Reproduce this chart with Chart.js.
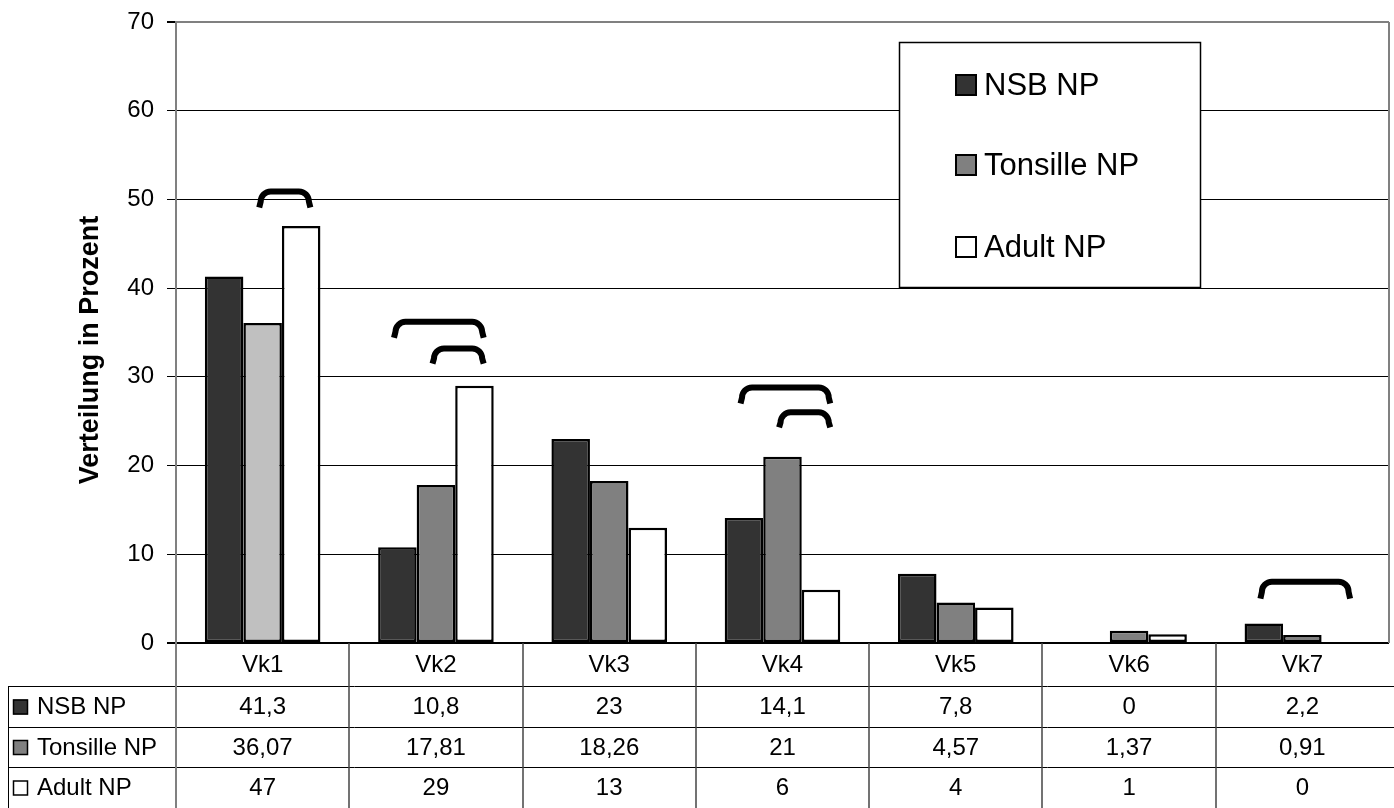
<!DOCTYPE html>
<html>
<head>
<meta charset="utf-8">
<script src="https://cdn.jsdelivr.net/npm/chart.js@4.4.0/dist/chart.umd.min.js"></script>
<style>
  html, body { margin: 0; padding: 0; background: #ffffff; }
  #wrap { width: 1394px; height: 808px; position: relative; }
</style>
</head>
<body>
<div id="wrap"><canvas id="chart"></canvas></div>
<script>
// Distribution of Vk families per group (percent)
const categories = ['Vk1', 'Vk2', 'Vk3', 'Vk4', 'Vk5', 'Vk6', 'Vk7'];
const seriesNames = ['NSB NP', 'Tonsille NP', 'Adult NP'];
const nsbNP      = [41.3, 10.8, 23, 14.1, 7.8, 0, 2.2];
const tonsilleNP = [36.07, 17.81, 18.26, 21, 4.57, 1.37, 0.91];
const adultNP    = [47, 29, 13, 6, 4, 1, 0];
const yTicks     = [0, 10, 20, 30, 40, 50, 60, 70];
const yTitle     = 'Verteilung in Prozent';

// Significance brackets: category, first and last series joined, level of the bar, level where the legs end
const bracketCategory = ['Vk1', 'Vk2', 'Vk2', 'Vk4', 'Vk4', 'Vk7'];
const bracketFrom     = [1, 0, 1, 0, 1, 0];
const bracketTo       = [2, 2, 2, 2, 2, 2];
const bracketTop      = [50.9, 36.2, 33.2, 28.8, 26.0, 6.9];
const bracketFoot     = [49.1, 34.4, 31.5, 27.0, 24.3, 5.0];

const seriesValues = [nsbNP, tonsilleNP, adultNP];
const seriesColors = ['#333333', '#808080', '#ffffff'];
const FONT = '"Liberation Sans", Arial, sans-serif';

const fmt = v => String(v).replace('.', ',');

const tonsilleFill = categories.map((c, i) => i === 0 ? '#c0c0c0' : seriesColors[1]);

const datasets = seriesNames.map((name, s) => ({
  label: name,
  data: seriesValues[s],
  backgroundColor: s === 1 ? tonsilleFill : seriesColors[s],
  borderColor: '#000000',
  borderWidth: 2.5,
  borderSkipped: false,
  categoryPercentage: 0.667,
  barPercentage: 1.0
}));

// Brackets above the bars
const bracketPlugin = {
  id: 'brackets',
  afterDatasetsDraw(chart) {
    const ctx = chart.ctx;
    const y = chart.scales.y;
    ctx.save();
    ctx.strokeStyle = '#000000';
    ctx.lineWidth = 6;
    ctx.lineCap = 'butt';
    ctx.lineJoin = 'round';
    bracketCategory.forEach((cat, k) => {
      const idx = categories.indexOf(cat);
      const a = chart.getDatasetMeta(bracketFrom[k]).data[idx];
      const b = chart.getDatasetMeta(bracketTo[k]).data[idx];
      const w = b.width;
      const xl = a.x - 0.05 * w;
      const xr = b.x + 0.2 * w;
      const yt = y.getPixelForValue(bracketTop[k]);
      const yf = y.getPixelForValue(bracketFoot[k]);
      const r = 10;
      ctx.beginPath();
      ctx.moveTo(xl - 1.5, yf);
      ctx.lineTo(xl, yt + r);
      ctx.arcTo(xl, yt, xl + r, yt, r);
      ctx.lineTo(xr - r, yt);
      ctx.arcTo(xr, yt, xr, yt + r, r);
      ctx.lineTo(xr + 1.5, yf);
      ctx.stroke();
    });
    ctx.restore();
  }
};

// Legend box, axis title, plot frame and data table
const framePlugin = {
  id: 'frame',
  afterDraw(chart) {
    const ctx = chart.ctx;
    const area = chart.chartArea;
    const xs = chart.scales.x;
    const colW = (area.right - area.left) / categories.length;
    ctx.save();

    // right edge of the plot area
    ctx.strokeStyle = '#808080';
    ctx.lineWidth = 2;
    ctx.beginPath();
    ctx.moveTo(area.right, area.top);
    ctx.lineTo(area.right, area.bottom);
    ctx.stroke();

    // axis title
    ctx.fillStyle = '#000000';
    ctx.font = 'bold 27px ' + FONT;
    ctx.textAlign = 'center';
    ctx.textBaseline = 'middle';
    ctx.translate(91, 350);
    ctx.rotate(-Math.PI / 2);
    ctx.fillText(yTitle, 0, 0);
    ctx.setTransform(1, 0, 0, 1, 0, 0);

    // legend
    const lx = 899, ly = 42, lw = 301, lh = 245;
    ctx.fillStyle = '#ffffff';
    ctx.fillRect(lx, ly, lw, lh);
    ctx.strokeStyle = '#000000';
    ctx.lineWidth = 1.5;
    ctx.beginPath();
    ctx.rect(lx + 0.5, ly + 0.5, lw, lh);
    ctx.stroke();
    const legendY = [85, 165, 247];
    ctx.font = '31px ' + FONT;
    ctx.textAlign = 'left';
    ctx.textBaseline = 'middle';
    seriesNames.forEach((name, s) => {
      ctx.fillStyle = seriesColors[s];
      ctx.fillRect(955, legendY[s] - 11, 22, 22);
      ctx.strokeStyle = '#000000';
      ctx.lineWidth = 2;
      ctx.strokeRect(956, legendY[s] - 10, 20, 20);
      ctx.fillStyle = '#000000';
      ctx.fillText(name, 984, legendY[s] + 1);
    });

    // data table
    const top = area.bottom;
    const rowLines = [top + 43, top + 84, top + 124];
    const tableBottom = 808;
    const tableLeft = 8;
    ctx.strokeStyle = '#000000';
    ctx.lineWidth = 1;
    rowLines.forEach(yy => {
      ctx.beginPath();
      ctx.moveTo(tableLeft, yy + 0.5);
      ctx.lineTo(1394, yy + 0.5);
      ctx.stroke();
    });
    ctx.beginPath();
    ctx.moveTo(tableLeft + 0.5, rowLines[0]);
    ctx.lineTo(tableLeft + 0.5, tableBottom);
    ctx.stroke();

    ctx.strokeStyle = '#808080';
    ctx.lineWidth = 2;
    ctx.beginPath();
    ctx.moveTo(area.left, top);
    ctx.lineTo(area.left, tableBottom);
    ctx.stroke();
    ctx.strokeStyle = '#444444';
    ctx.lineWidth = 1.5;
    for (let k = 1; k < categories.length; k++) {
      const xx = Math.round(area.left + k * colW);
      ctx.beginPath();
      ctx.moveTo(xx, top);
      ctx.lineTo(xx, tableBottom);
      ctx.stroke();
    }

    ctx.fillStyle = '#000000';
    ctx.font = '24px ' + FONT;
    ctx.textAlign = 'center';
    ctx.textBaseline = 'middle';
    const catY = (top + rowLines[0]) / 2 + 1;
    const rowY = [
      (rowLines[0] + rowLines[1]) / 2 + 1,
      (rowLines[1] + rowLines[2]) / 2 + 1,
      (rowLines[2] + tableBottom) / 2 + 1
    ];
    categories.forEach((c, i) => {
      const cx = xs.getPixelForValue(i);
      ctx.fillText(c, cx, catY);
      seriesValues.forEach((vals, s) => ctx.fillText(fmt(vals[i]), cx, rowY[s]));
    });

    ctx.textAlign = 'left';
    seriesNames.forEach((name, s) => {
      ctx.fillStyle = seriesColors[s];
      ctx.fillRect(13, rowY[s] - 8, 15, 15);
      ctx.strokeStyle = '#000000';
      ctx.lineWidth = 1.5;
      ctx.strokeRect(13.5, rowY[s] - 7.5, 14, 14);
      ctx.fillStyle = '#000000';
      ctx.fillText(name, 37, rowY[s]);
    });

    ctx.restore();
  }
};

new Chart(document.getElementById('chart'), {
  type: 'bar',
  data: { labels: categories, datasets },
  options: {
    responsive: true,
    maintainAspectRatio: false,
    animation: false,
    layout: { padding: { left: 0, top: 22, right: 5, bottom: 165 } },
    plugins: {
      legend: { display: false },
      tooltip: { enabled: false }
    },
    scales: {
      x: {
        display: false,
        grid: { display: false }
      },
      y: {
        min: 0,
        max: 70,
        afterFit(scale) {
          scale.width = 176;
          scale.paddingTop = 0;
          scale.paddingBottom = 0;
        },
        afterBuildTicks(scale) { scale.ticks = yTicks.map(v => ({ value: v })); },
        border: { display: true, color: '#808080', width: 2 },
        grid: {
          drawTicks: true,
          tickLength: 9,
          tickColor: '#000000',
          color: c => c.tick.value === 70 ? '#808080' : '#000000',
          lineWidth: c => (c.tick.value === 70 || c.tick.value === 0) ? 2 : 1
        },
        ticks: {
          padding: 13,
          color: '#000000',
          font: { family: FONT, size: 24 },
          callback: v => fmt(v)
        }
      }
    }
  },
  plugins: [bracketPlugin, framePlugin]
});
</script>
</body>
</html>
